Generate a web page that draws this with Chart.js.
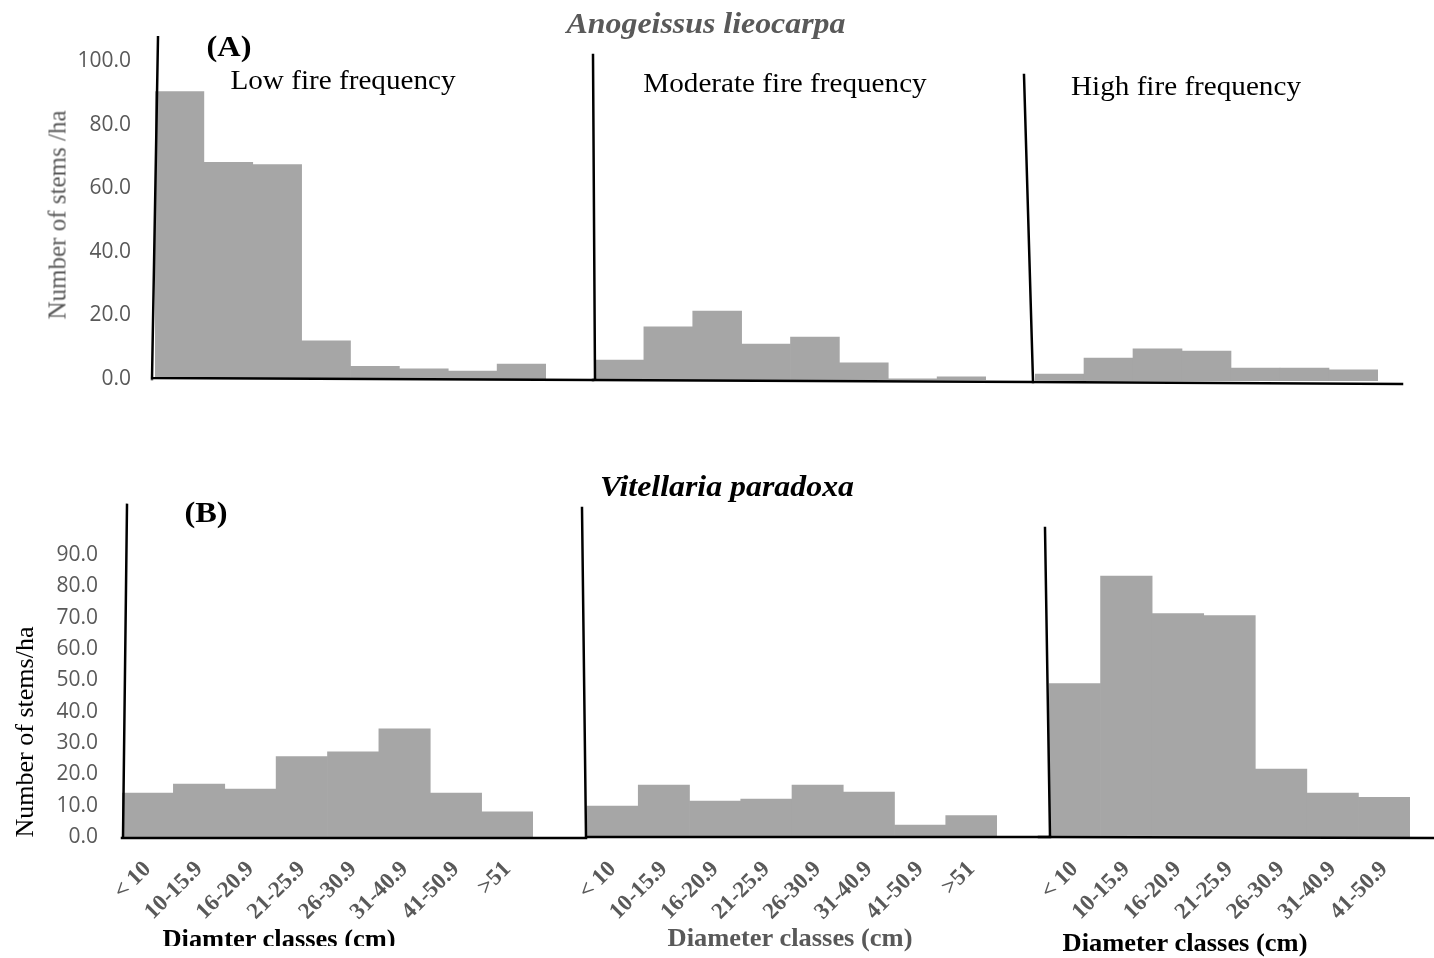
<!DOCTYPE html>
<html><head><meta charset="utf-8">
<script src="https://cdn.jsdelivr.net/npm/chart.js@4.4.0/dist/chart.umd.min.js"></script>
<style>
html,body{margin:0;padding:0;background:#fff;}
#wrap{position:relative;width:1434px;height:958px;overflow:hidden;background:#fff;}
#wrap canvas{position:absolute;left:0;top:0;}
.t{position:absolute;white-space:nowrap;font-family:"Liberation Serif","Times New Roman",serif;line-height:1;}
.c{transform:translate(-50%,-50%) scaleX(1.08);}
.v{transform:translate(-50%,-50%) rotate(-90deg);}
</style></head><body>
<div id="wrap">
<canvas id="A1" width="1434" height="958"></canvas>
<canvas id="A2" width="1434" height="958"></canvas>
<canvas id="A3" width="1434" height="958"></canvas>
<canvas id="B1" width="1434" height="958"></canvas>
<canvas id="B2" width="1434" height="958"></canvas>
<canvas id="B3" width="1434" height="958"></canvas>

<div class="t c" style="left:706px;top:24px;font-size:29.5px;font-weight:bold;font-style:italic;color:#595959">Anogeissus lieocarpa</div>
<div class="t c" style="left:229px;top:46px;font-size:30px;font-weight:bold;color:#000">(A)</div>
<div class="t c" style="left:343px;top:80px;font-size:27px;color:#000">Low fire frequency</div>
<div class="t c" style="left:785px;top:83px;font-size:27px;color:#000">Moderate fire frequency</div>
<div class="t c" style="left:1186px;top:86px;font-size:27px;color:#000">High fire frequency</div>
<div class="t v" style="left:57px;top:215px;font-size:25px;color:#595959">Number of stems /ha</div>

<div class="t c" style="left:727px;top:487px;font-size:29.5px;font-weight:bold;font-style:italic;color:#000">Vitellaria paradoxa</div>
<div class="t c" style="left:206px;top:512px;font-size:30px;font-weight:bold;color:#000">(B)</div>
<div class="t v" style="left:25px;top:732px;font-size:26px;color:#000">Number of stems/ha</div>

<div style="position:absolute;left:0;top:0;width:1434px;height:946px;overflow:hidden;">
<div class="t c" style="left:279px;top:939px;font-size:24.5px;font-weight:bold;color:#000">Diamter classes (cm)</div>
</div>
<div class="t c" style="left:790px;top:938px;font-size:24.5px;font-weight:bold;color:#595959">Diameter classes (cm)</div>
<div class="t c" style="left:1185px;top:943px;font-size:24.5px;font-weight:bold;color:#000">Diameter classes (cm)</div>
</div>

<script>
// ---- data ----
const classes8 = ["< 10","10-15.9","16-20.9","21-25.9","26-30.9","31-40.9","41-50.9",">51"];
const classes7 = ["< 10","10-15.9","16-20.9","21-25.9","26-30.9","31-40.9","41-50.9"];
const anoLow      = [90.4, 68.1, 67.4, 12.0, 4.0, 3.2, 2.5, 4.7];
const anoModerate = [6.3, 16.7, 21.7, 11.3, 13.5, 5.4, 0.4, 1.0];
const anoHigh     = [2.2, 7.2, 10.1, 9.4, 4.1, 4.1, 3.5];
const vitLow      = [14.0, 16.9, 15.3, 25.7, 27.2, 34.5, 14.0, 8.0];
const vitModerate = [9.9, 16.6, 11.5, 12.1, 16.6, 14.3, 3.8, 6.8];
const vitHigh     = [49.0, 83.3, 71.3, 70.7, 21.7, 14.0, 12.7];
const yTicksA = [0, 20, 40, 60, 80, 100];
const yTicksB = [0, 10, 20, 30, 40, 50, 60, 70, 80, 90];

// ---- hand-drawn style axis lines ----
const handAxes = {
  id: 'handAxes',
  afterDatasetsDraw(chart, args, o) {
    const ctx = chart.ctx, a = chart.chartArea, y = chart.scales.y;
    const y0 = y.getPixelForValue(0);
    ctx.save();
    ctx.strokeStyle = '#000';
    ctx.lineWidth = 2.5;
    ctx.lineCap = 'square';
    ctx.beginPath();
    ctx.moveTo(a.left + o.dxBot, y0);
    ctx.lineTo(a.left + o.dxTop, y.getPixelForValue(o.vTop));
    ctx.moveTo(a.left + o.bx0, y0 + o.by0);
    ctx.lineTo(a.right + o.bx1, y0 + o.by1);
    ctx.stroke();
    ctx.restore();
  }
};

const W = 1434, H = 958;
function panel(id, labels, values, area, cfg) {
  const yW = 110, xH = cfg.showX ? 100 : 0;
  new Chart(document.getElementById(id), {
    type: 'bar',
    data: { labels: labels, datasets: [{ data: values, backgroundColor: '#a6a6a6', borderWidth: 0,
      barPercentage: 1, categoryPercentage: 1 }] },
    options: {
      responsive: false, animation: false, devicePixelRatio: 1,
      layout: { padding: { left: area.left - yW, right: W - area.right, top: area.top, bottom: H - area.bottom - xH } },
      plugins: { legend: { display: false }, tooltip: { enabled: false }, handAxes: cfg.axes },
      scales: {
        x: {
          type: 'category', offset: true,
          grid: { display: false, drawTicks: false }, border: { display: false },
          ticks: { display: !!cfg.showX, autoSkip: false, maxRotation: 45, minRotation: 45, padding: 19,
            color: '#595959', font: { family: '"Liberation Serif", "Times New Roman", serif', size: 23, weight: 'bold' } },
          afterFit: s => { s.height = xH; }
        },
        y: {
          min: 0, max: cfg.max,
          grid: { display: false, drawTicks: false }, border: { display: false },
          afterBuildTicks: s => { s.ticks = cfg.ticks.map(v => ({ value: v })); },
          ticks: { display: !!cfg.showY, padding: 24, color: '#595959',
            font: { family: '"Open Sans", "DejaVu Sans", sans-serif', size: 21 },
            callback: v => Number(v).toFixed(1) },
          afterFit: s => { s.width = yW; }
        }
      }
    },
    plugins: [handAxes]
  });
}

// top row: Anogeissus lieocarpa
panel('A1', classes8, anoLow, { left: 155, right: 546, top: 61, bottom: 379 },
  { max: 100, ticks: yTicksA, showY: true, showX: false,
    axes: { dxBot: -3, dxTop: 3, vTop: 107.5, bx0: -3, by0: -1, bx1: 47, by1: 1 } });
panel('A2', classes8, anoModerate, { left: 595, right: 986, top: 62, bottom: 380 },
  { max: 100, ticks: yTicksA, showY: false, showX: false,
    axes: { dxBot: 0, dxTop: -2, vTop: 102.2, bx0: -2, by0: 0, bx1: 47, by1: 2 } });
panel('A3', classes7, anoHigh, { left: 1035, right: 1378, top: 63, bottom: 381 },
  { max: 100, ticks: yTicksA, showY: false, showX: false,
    axes: { dxBot: -2, dxTop: -11, vTop: 96.2, bx0: -2, by0: 1, bx1: 24, by1: 3 } });

// bottom row: Vitellaria paradoxa
panel('B1', classes8, vitLow, { left: 122, right: 533, top: 555, bottom: 837 },
  { max: 90, ticks: yTicksB, showY: true, showX: true,
    axes: { dxBot: 1, dxTop: 5, vTop: 106, bx0: 0, by0: 1, bx1: 53, by1: 1 } });
panel('B2', classes8, vitModerate, { left: 587, right: 997, top: 555, bottom: 837 },
  { max: 90, ticks: yTicksB, showY: false, showX: true,
    axes: { dxBot: -1, dxTop: -5, vTop: 105, bx0: -1, by0: 0, bx1: 53, by1: 0 } });
panel('B3', classes7, vitHigh, { left: 1049, right: 1410, top: 555, bottom: 837 },
  { max: 90, ticks: yTicksB, showY: false, showX: true,
    axes: { dxBot: 1, dxTop: -4, vTop: 98.6, bx0: -10, by0: 0, bx1: 30, by1: 1 } });
</script>
</body></html>
